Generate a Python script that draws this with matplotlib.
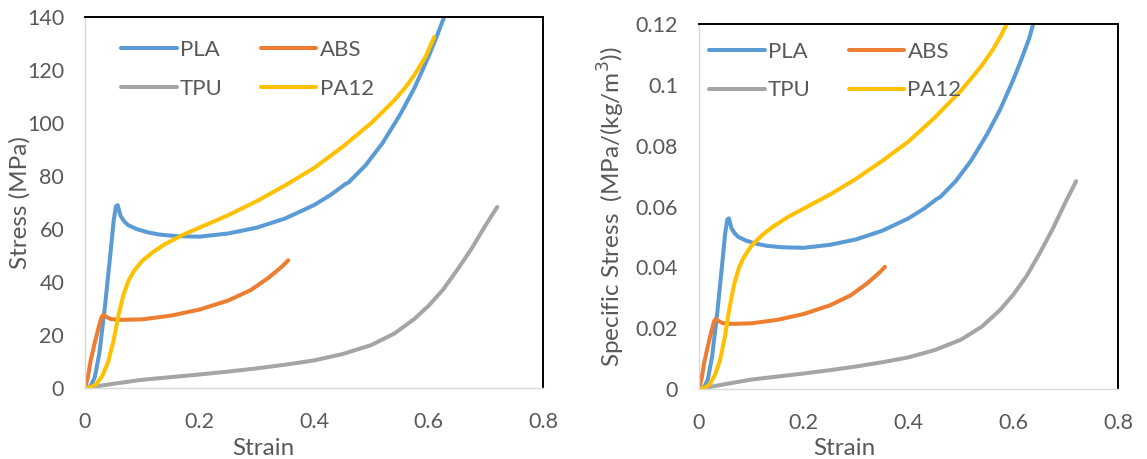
"""Tensile stress-strain curves for four printed polymers, raw and density-normalised."""

import matplotlib

matplotlib.use("Agg")
import matplotlib.pyplot as plt
from matplotlib.ticker import FuncFormatter, MultipleLocator
import numpy as np

plt.rcParams["font.family"] = ["Lato", "DejaVu Sans"]

# Engineering stress (MPa) against strain, one pair of lists per material.
pla_strain = [0, 0.005, 0.01, 0.017, 0.025, 0.035, 0.045, 0.05, 0.054, 0.057, 0.059,
              0.062, 0.068, 0.075, 0.09, 0.11, 0.13, 0.16, 0.2, 0.25, 0.3, 0.35, 0.4,
              0.43, 0.455, 0.46, 0.49, 0.52, 0.55, 0.575, 0.6, 0.615, 0.63, 0.64]
pla_stress = [0, 0.3, 0.8, 4, 13, 31, 52, 63, 68.5, 69, 67.5,
              65, 63, 61.5, 60, 58.7, 57.9, 57.3, 57.1, 58.3, 60.5, 64, 69,
              73, 77, 77.5, 84, 92.5, 103, 113, 125, 133, 141.5, 149]

abs_strain = [0, 0.005, 0.01, 0.017, 0.024, 0.029, 0.032, 0.036, 0.045, 0.06, 0.1,
              0.15, 0.2, 0.25, 0.29, 0.32, 0.345, 0.355]
abs_stress = [0, 4, 10.5, 17, 23, 26.8, 27.6, 27, 26, 25.7, 25.9,
              27.3, 29.6, 33, 37, 41.5, 46, 48.2]

tpu_strain = [0, 0.05, 0.1, 0.15, 0.2, 0.25, 0.3, 0.35, 0.4, 0.45, 0.5, 0.54, 0.575,
              0.6, 0.625, 0.65, 0.675, 0.7, 0.72]
tpu_stress = [0, 1.6, 3.1, 4.1, 5.1, 6.2, 7.4, 8.8, 10.4, 12.8, 16.2, 20.5, 26,
              31, 37, 44.5, 52.5, 61.5, 68.3]

pa12_strain = [0, 0.01, 0.02, 0.03, 0.04, 0.05, 0.058, 0.067, 0.076, 0.085, 0.1, 0.12,
               0.14, 0.17, 0.2, 0.25, 0.3, 0.35, 0.4, 0.45, 0.5, 0.52, 0.54, 0.56,
               0.575, 0.595, 0.61]
pa12_stress = [0, 0.3, 1.5, 4.5, 9.5, 18, 27, 35, 40.5, 44, 48, 51.5,
               54.3, 57.7, 60.5, 65.2, 70.5, 76.5, 83, 91, 100, 104.2, 108.5, 113.5,
               118, 125, 132.5]

# Densities in kg/m^3 used for the specific-stress panel.
densities = {"PLA": 1230, "ABS": 1200, "TPU": 1000, "PA12": 1020}

materials = ["PLA", "ABS", "TPU", "PA12"]
colors = {"PLA": "#5B9BD5", "ABS": "#ED7D31", "TPU": "#A5A5A5", "PA12": "#FFC000"}
curves = {
    "PLA": (pla_strain, pla_stress),
    "ABS": (abs_strain, abs_stress),
    "TPU": (tpu_strain, tpu_stress),
    "PA12": (pa12_strain, pa12_stress),
}

text_color = "#595959"
tick_size = 15.5
title_size = 17.5
legend_size = 16

fig = plt.figure(figsize=(11.47, 4.59), dpi=100)
ax1 = fig.add_axes([0.0741, 0.1547, 0.3993, 0.8083])
ax2 = fig.add_axes([0.6094, 0.1525, 0.3653, 0.7952])


def general_fmt(v, _):
    return f"{v:g}"


def style_axes(ax):
    for side in ("left", "bottom"):
        ax.spines[side].set_color("#d9d9d9")
        ax.spines[side].set_linewidth(1.0)
    for side in ("top", "right"):
        ax.spines[side].set_color("black")
        ax.spines[side].set_linewidth(1.4)
    ax.tick_params(length=0, labelsize=tick_size, labelcolor=text_color)
    ax.tick_params(axis="y", pad=15)
    ax.tick_params(axis="x", pad=17)
    ax.set_xlim(0, 0.8)
    ax.xaxis.set_major_locator(MultipleLocator(0.2))
    ax.xaxis.set_major_formatter(FuncFormatter(general_fmt))
    ax.yaxis.set_major_formatter(FuncFormatter(general_fmt))


for ax, specific in ((ax1, False), (ax2, True)):
    for name in materials:
        strain, stress = curves[name]
        y = np.asarray(stress, dtype=float)
        if specific:
            y = y / densities[name]
        ax.plot(strain, y, color=colors[name], lw=2.9, label=name,
                solid_capstyle="round", solid_joinstyle="round")
    style_axes(ax)

ax1.set_ylim(0, 140)
ax1.yaxis.set_major_locator(MultipleLocator(20))
ax2.set_ylim(0, 0.12)
ax2.yaxis.set_major_locator(MultipleLocator(0.02))

ax1.set_xlabel("Strain", fontsize=title_size, color=text_color)
ax2.set_xlabel("Strain", fontsize=title_size, color=text_color)
ax1.set_ylabel("Stress (MPa)", fontsize=title_size, color=text_color)
ax2.set_ylabel("Specific Stress  (MPa/(kg/m$^3$))", fontsize=title_size,
               color=text_color)
for ax, xl, yl_x, yl_y in ((ax1, 0.389, -0.142, -0.163), (ax2, 0.346, -0.208, -0.162)):
    ax.xaxis.set_label_coords(xl, yl_y)
    ax.xaxis.label.set_va("center")
    ax.yaxis.set_label_coords(yl_x, 0.5)
    ax.yaxis.label.set_va("center")

# Two-row legend: PLA / ABS on top, TPU / PA12 below.
for ax, anchor in ((ax1, (0.079, 0.938)), (ax2, (0.024, 0.952))):
    handles, labels = ax.get_legend_handles_labels()
    order = [0, 2, 1, 3]
    leg = ax.legend([handles[i] for i in order], [labels[i] for i in order],
                    ncol=2, loc="upper left", bbox_to_anchor=anchor,
                    frameon=False, fontsize=legend_size, handlelength=2.5,
                    handletextpad=0.15, columnspacing=1.7, labelspacing=0.85,
                    borderpad=0, borderaxespad=0)
    for t in leg.get_texts():
        t.set_color(text_color)

fig.savefig("out.png", dpi=100)
